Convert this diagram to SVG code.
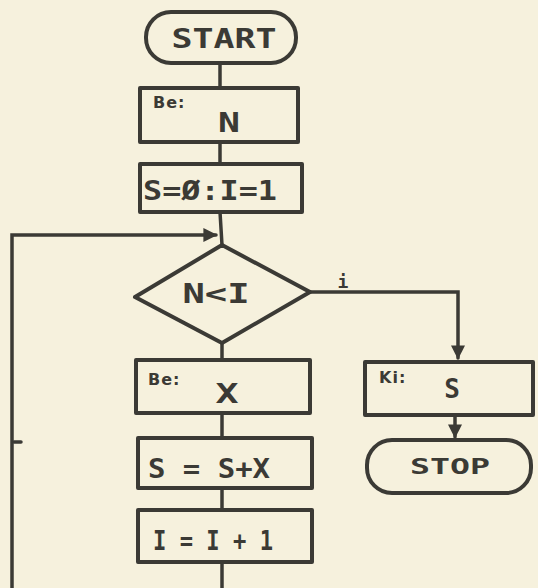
<svg xmlns="http://www.w3.org/2000/svg" width="538" height="588" viewBox="0 0 538 588">
<style>
.s{fill:none;stroke:#3b3a35;stroke-width:4;stroke-linejoin:round;stroke-linecap:round}
.c{fill:none;stroke:#3b3a35;stroke-width:3.5;stroke-linecap:round}
.t{font-family:"DejaVu Sans Mono","Liberation Mono",monospace;font-weight:bold;fill:#3b3a35}
.big{font-size:26px;text-anchor:middle}
.sm{font-family:"DejaVu Sans",sans-serif;font-size:16px;letter-spacing:1px}
</style>
<defs>
<marker id="a" viewBox="0 0 10 10" refX="9" refY="5" markerWidth="4" markerHeight="4" orient="auto">
<path d="M0,0 L10,5 L0,10 z" fill="#3b3a35"/>
</marker>
</defs>
<rect width="538" height="588" fill="#f6f1dd"/>
<g id="connectors">
<line class="c" x1="220" y1="63" x2="220" y2="88"/>
<line class="c" x1="220" y1="142" x2="220" y2="163"/>
<line class="c" x1="220" y1="212" x2="222" y2="245"/>
<polyline class="c" points="222,588 222,562"/>
<polyline class="c" points="12,588 12,235 216,235" marker-end="url(#a)"/>
<line class="c" x1="14" y1="442" x2="21" y2="442" stroke-width="2"/>
<line class="c" x1="222" y1="343" x2="222" y2="360"/>
<line class="c" x1="222" y1="413" x2="222" y2="438"/>
<line class="c" x1="222" y1="488" x2="222" y2="510"/>
<polyline class="c" points="310,292 458,292 458,358" marker-end="url(#a)"/>
<line class="c" x1="455" y1="415" x2="455" y2="437" marker-end="url(#a)"/>
<text class="t" x="343" y="288" font-size="18" text-anchor="middle">i</text>
</g>
<g id="start">
<rect class="s" x="146" y="12" width="150" height="51" rx="25"/>
<text class="t big" x="224" y="48" textLength="105" lengthAdjust="spacingAndGlyphs">START</text>
</g>
<g id="input-n">
<rect class="s" x="140" y="88" width="158" height="54"/>
<text class="t sm" x="153" y="108">Be:</text>
<text class="t big" x="229" y="132" textLength="22" lengthAdjust="spacingAndGlyphs">N</text>
</g>
<g id="init">
<rect class="s" x="140" y="164" width="162" height="48"/>
<text class="t big" x="210" y="200" textLength="134" lengthAdjust="spacingAndGlyphs">S=Ø:I=1</text>
</g>
<g id="decision">
<polygon class="s" points="222,245 310,292 222,343 135,297"/>
<text class="t big" x="216" y="303" textLength="67" lengthAdjust="spacingAndGlyphs">N&lt;I</text>
</g>
<g id="input-x">
<rect class="s" x="136" y="360" width="174" height="53"/>
<text class="t sm" x="148" y="385">Be:</text>
<text class="t big" x="227" y="403" textLength="23" lengthAdjust="spacingAndGlyphs">X</text>
</g>
<g id="sum">
<rect class="s" x="138" y="438" width="174" height="50"/>
<text class="t big" x="209" y="478" textLength="122" lengthAdjust="spacingAndGlyphs">S = S+X</text>
</g>
<g id="incr">
<rect class="s" x="138" y="510" width="174" height="52"/>
<text class="t big" x="213" y="550" textLength="120" lengthAdjust="spacingAndGlyphs">I = I + 1</text>
</g>
<g id="output-s">
<rect class="s" x="365" y="362" width="168" height="53"/>
<text class="t sm" x="379" y="383">Ki:</text>
<text class="t big" x="452" y="398">S</text>
</g>
<g id="stop">
<rect class="s" x="367" y="440" width="164" height="53" rx="25"/>
<text class="t big" x="450" y="474" style="font-size:22px" textLength="80" lengthAdjust="spacingAndGlyphs">STOP</text>
</g>
</svg>
